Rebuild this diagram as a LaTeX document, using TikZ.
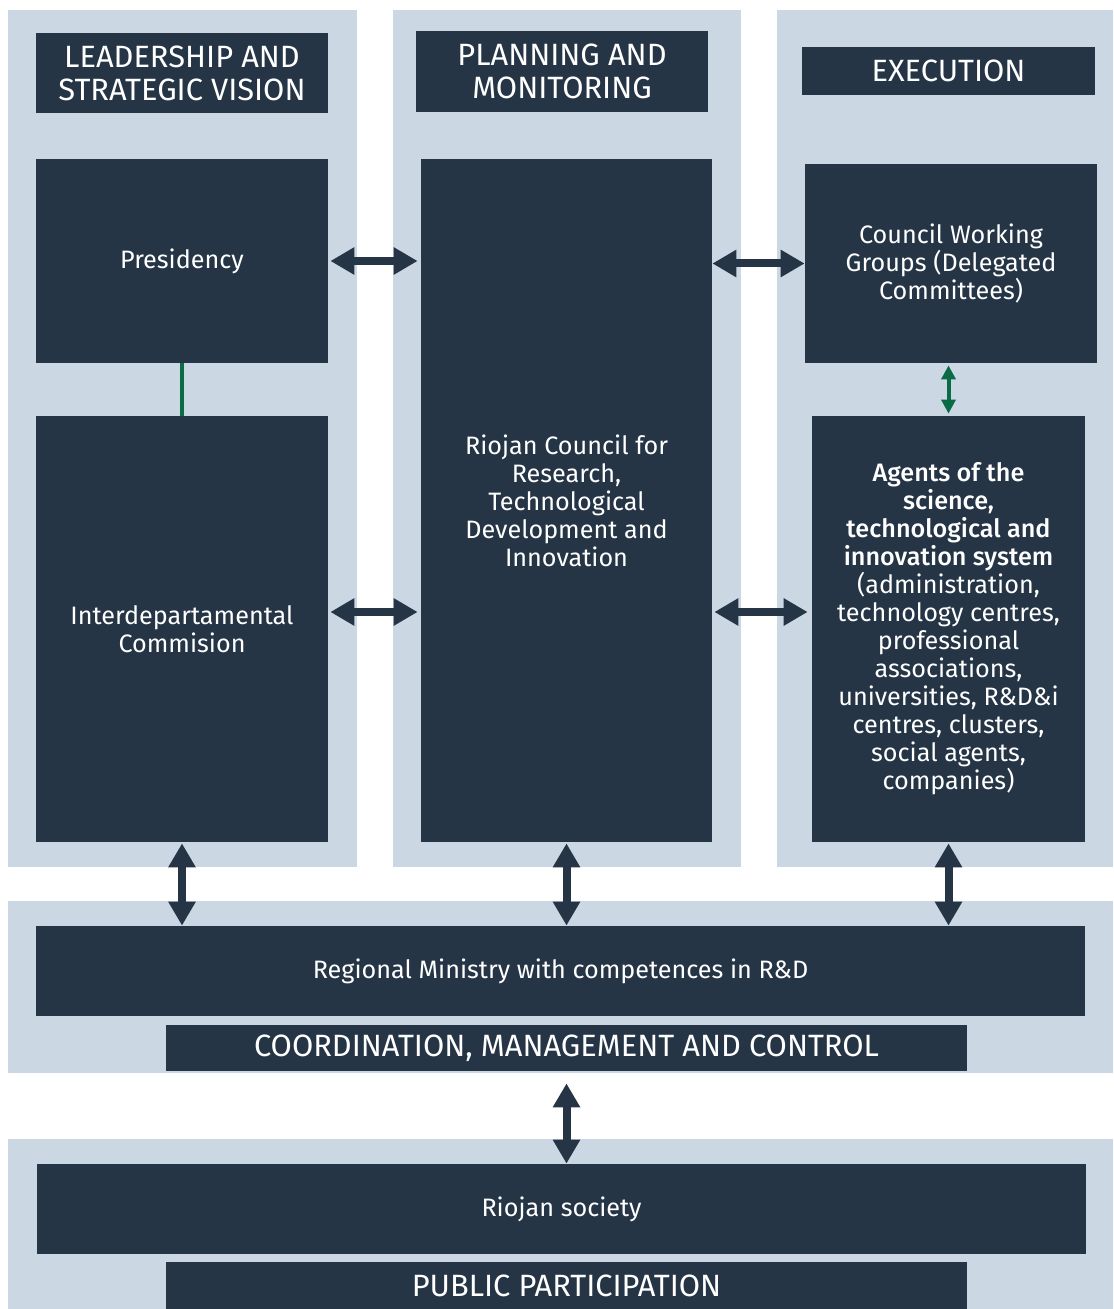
\documentclass[tikz,border=0pt]{standalone}
\usepackage{fontspec}
\setmainfont{Fira Sans}[BoldFont=* Medium]
\usetikzlibrary{arrows.meta}
\definecolor{sotet}{HTML}{253546}
\definecolor{halvany}{HTML}{CBD7E3}
\definecolor{zold}{HTML}{0B6B45}
\newcommand{\hatter}[4]{
\fill[halvany] (#1,#2) rectangle (#3,#4);
}

\begin{document}
\begin{tikzpicture}[x=0.5pt,y=-0.5pt,
doboz/.style={fill=sotet, text=white, inner sep=0pt, align=center, font=\fontsize{12.6}{14}\selectfont},
fejlec/.style={doboz, font=\fontsize{15.4}{16.5}\selectfont},
nyil/.style={draw=sotet, line width=4pt, {Triangle[length=12pt,width=13pt]}-{Triangle[length=12pt,width=13pt]}},
zoldnyil/.style={draw=zold, line width=2pt, {Triangle[length=7pt,width=7pt]}-{Triangle[length=7pt,width=7pt]}}]
\useasboundingbox (0,0) rectangle (1113,1309);

\hatter{8}{10}{357}{867}
\hatter{393}{10}{741}{867}
\hatter{777}{10}{1113}{867}
\hatter{8}{901}{1113}{1073}
\hatter{8}{1139}{1113}{1309}

\node[fejlec, minimum width=146pt, minimum height=40pt] (leadership) at (182,73){LEADERSHIP AND\\STRATEGIC VISION};
\node[fejlec, minimum width=146pt, minimum height=40.5pt] (planning) at (562,71.5){PLANNING AND\\MONITORING};
\node[fejlec, minimum width=146.5pt, minimum height=24pt] (execution) at (948.5,71){EXECUTION};

\node[doboz, minimum width=146pt, minimum height=102pt] (pres) at (182,261){Presidency};
\node[doboz, minimum width=146pt, minimum height=213pt] (inter) at (182,629){Interdepartamental\\Commision};
\node[doboz, minimum width=145.5pt, minimum height=341.5pt] (council) at (566.5,500.5){Riojan Council for\\Research,\\Technological\\Development and\\Innovation};
\node[doboz, minimum width=146pt, minimum height=99.5pt] (cwg) at (951,263.5){Council Working\\Groups (Delegated\\Committees)};
\node[doboz, minimum width=136.5pt, minimum height=213pt] (agents) at (948.5,629){\textbf{Agents of the}\\\textbf{science,}\\\textbf{technological and}\\\textbf{innovation system}\\(administration,\\technology centres,\\professional\\associations,\\universities, R\&D\&i\\centres, clusters,\\social agents,\\companies)};

\node[doboz, minimum width=524.5pt, minimum height=45pt] (ministry) at (560.5,971){Regional Ministry with competences in R\&D};
\node[fejlec, minimum width=400.5pt, minimum height=23pt] (coord) at (566.5,1048){COORDINATION, MANAGEMENT AND CONTROL};
\node[doboz, minimum width=524.5pt, minimum height=45pt] (society) at (561.5,1209){Riojan society};
\node[fejlec, minimum width=400.5pt, minimum height=23.5pt] (public) at (566.5,1285.5){PUBLIC PARTICIPATION};

\draw[nyil, shorten <=1pt, shorten >=1.5pt] (pres.east) -- (pres.east -| council.west);
\draw[nyil, shorten <=1pt, shorten >=1.5pt] ([yshift=8.5pt]inter.east) -- ([yshift=8.5pt]inter.east -| council.west);
\draw[nyil, shorten <=0pt, shorten >=0pt] (cwg.west) -- (cwg.west -| council.east);
\draw[nyil, shorten <=2pt, shorten >=1pt] ([yshift=8.5pt]agents.west) -- ([yshift=8.5pt]agents.west -| council.east);

\draw[zold, line width=2pt] (pres.south) -- (inter.north);
\draw[zoldnyil, shorten <=1pt, shorten >=1pt] (agents.north) -- (agents.north |- cwg.south);

\draw[nyil, shorten <=0.5pt] (inter.south) -- (inter.south |- ministry.north);
\draw[nyil, shorten <=0.5pt] (council.south) -- (council.south |- ministry.north);
\draw[nyil, shorten <=0.5pt] (agents.south) -- (agents.south |- ministry.north);
\draw[nyil, shorten <=6pt] (coord.south) -- (coord.south |- society.north);

\end{tikzpicture}
\end{document}
